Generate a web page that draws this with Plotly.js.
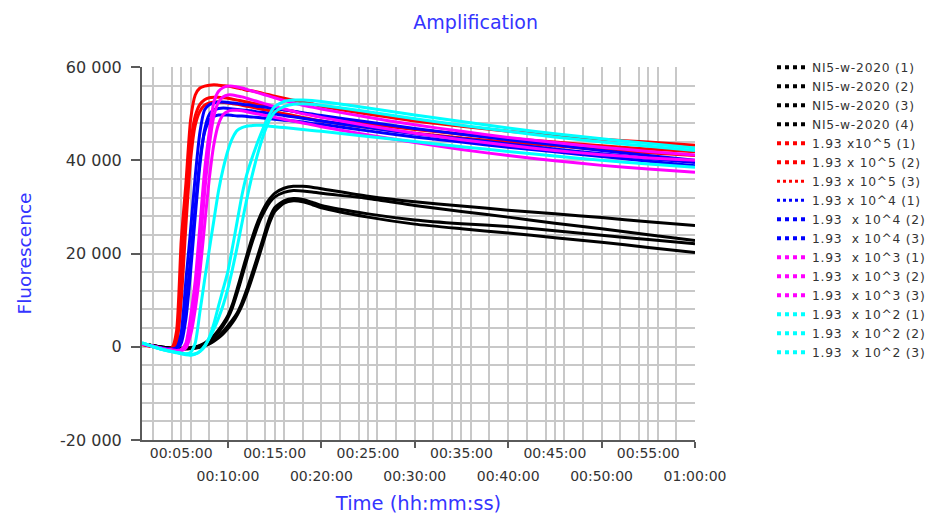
<!DOCTYPE html>
<html><head><meta charset="utf-8">
<script src="https://cdn.plot.ly/plotly-3.0.1.min.js"></script>
<style>html,body{margin:0;padding:0;background:#fff}#chart{width:929px;height:516px}
.legendtext{letter-spacing:0.75px}</style>
</head><body><div id="chart"></div>
<script>
// time in minutes
const timeMin = [0.8, 2, 3, 4, 4.5, 5, 5.5, 6, 6.5, 7, 7.5, 8, 8.5, 9, 9.5, 10, 10.5, 11, 11.5, 12, 12.5, 13, 13.5, 14, 14.5, 15, 16, 17, 18, 19, 20, 25, 30, 35, 40, 45, 50, 55, 60];

const ni5_1 = [600, 200, -100, -300, -300, -300, -300, -200, 0, 300, 800, 1500, 2400, 3600, 5000, 6700, 9200, 12500, 16000, 19500, 22800, 25800, 28300, 30300, 31800, 32900, 34000, 34400, 34400, 34200, 33900, 32300, 31100, 30200, 29300, 28500, 27700, 26800, 26000];
const ni5_2 = [600, 200, -100, -300, -300, -300, -300, -200, -100, 200, 600, 1200, 2000, 3100, 4500, 6200, 8500, 11600, 15000, 18500, 21800, 24800, 27400, 29400, 31000, 32100, 33100, 33500, 33400, 33200, 32900, 31800, 30300, 29000, 27800, 26500, 25300, 24000, 22800];
const ni5_3 = [600, 200, -100, -300, -400, -400, -400, -300, -200, 0, 400, 900, 1500, 2300, 3300, 4500, 5800, 7300, 9500, 12200, 15200, 18300, 21500, 24800, 27800, 29800, 31300, 31800, 31600, 31000, 30300, 28500, 27200, 26400, 25800, 24900, 23900, 23000, 22100];
const ni5_4 = [600, 200, -100, -300, -400, -500, -500, -400, -300, -100, 200, 600, 1200, 1900, 2800, 3900, 5200, 6800, 8800, 11300, 14200, 17300, 20500, 23800, 26800, 29000, 30800, 31300, 31100, 30500, 29800, 27800, 26300, 25300, 24400, 23400, 22400, 21300, 20200];

const e5_1 = [600, 100, -300, -200, 3400, 22800, 35000, 48600, 54000, 55500, 55900, 56100, 56200, 56100, 56000, 55900, 55700, 55500, 55300, 55000, 54900, 54700, 54500, 54200, 54000, 53750, 53300, 52900, 52500, 52100, 51600, 49900, 48400, 47300, 46200, 45400, 44500, 43900, 43200];
const e5_2 = [500, 0, -400, -300, 1500, 15000, 31000, 43500, 49500, 52000, 53000, 53400, 53500, 53500, 53400, 53300, 53100, 52900, 52700, 52500, 52300, 52100, 51900, 51700, 51500, 51300, 50900, 50500, 50100, 49700, 49300, 47800, 46600, 45600, 44700, 43900, 43100, 42400, 41800];
const e5_3 = [500, 0, -400, -400, 800, 10000, 26000, 40000, 47500, 50500, 51800, 52300, 52500, 52500, 52400, 52300, 52100, 52000, 51800, 51600, 51400, 51200, 51000, 50800, 50600, 50400, 50000, 49600, 49200, 48800, 48400, 47000, 45800, 44800, 43900, 43100, 42300, 41600, 41000];

const e4_1 = [600, 100, -300, -500, -200, 3000, 14200, 25000, 36500, 46000, 50800, 51900, 52300, 52500, 52500, 52400, 52300, 52200, 52000, 51900, 51800, 51600, 51500, 51400, 51200, 51100, 50800, 50500, 50200, 49900, 49600, 48200, 46800, 45600, 44400, 43300, 42100, 41000, 40000];
const e4_2 = [600, 100, -300, -600, -400, 1500, 9000, 19000, 30000, 40000, 46000, 48500, 49400, 49700, 49700, 49700, 49600, 49500, 49500, 49400, 49300, 49200, 49100, 49000, 48900, 48800, 48600, 48400, 48200, 47900, 47700, 46300, 45000, 43900, 42800, 41800, 40800, 39800, 38800];
const e4_3 = [600, 100, -300, -600, -500, 800, 6000, 16000, 28000, 39000, 46500, 49800, 50800, 51100, 51200, 51100, 51000, 50900, 50800, 50700, 50600, 50400, 50300, 50200, 50000, 49900, 49600, 49300, 49000, 48700, 48400, 47000, 45700, 44600, 43500, 42400, 41400, 40400, 39500];

const e3_1 = [600, 100, -400, -700, -800, -600, 800, 6500, 14200, 26000, 37800, 46000, 52500, 54800, 55600, 55900, 55900, 55700, 55500, 55200, 54900, 54600, 54300, 54000, 53700, 53400, 52800, 52300, 51800, 51400, 51000, 49200, 47600, 46200, 44900, 43800, 42800, 41900, 41100];
const e3_2 = [600, 100, -400, -700, -900, -700, 300, 4000, 11000, 21000, 33000, 43000, 49500, 52500, 53600, 54000, 54000, 53800, 53600, 53300, 53000, 52700, 52400, 52100, 51800, 51500, 51000, 50500, 50000, 49600, 49200, 47400, 45800, 44400, 43200, 42100, 41200, 40500, 40000];
const e3_3 = [600, 100, -400, -800, -1000, -900, -300, 2500, 8000, 16000, 26000, 36000, 43500, 47800, 49800, 50500, 50700, 50700, 50600, 50400, 50200, 50000, 49800, 49600, 49400, 49200, 48800, 48400, 48000, 47600, 47200, 45400, 43800, 42300, 41000, 39900, 38900, 38100, 37400];

const e2_1 = [800, 0, -600, -1000, -1200, -1400, -1500, -1200, 800, 7500, 14300, 20800, 27200, 33500, 38300, 42100, 44800, 46400, 47000, 47300, 47400, 47500, 47500, 47400, 47300, 47200, 47000, 46800, 46600, 46400, 46200, 45100, 44000, 42900, 41900, 40900, 40000, 39200, 38500];
const e2_2 = [800, 0, -600, -1000, -1200, -1400, -1600, -1700, -1500, -1000, 0, 2000, 5000, 8800, 12500, 16200, 21500, 27000, 32500, 36800, 40000, 42900, 45500, 47900, 50000, 51500, 52600, 52900, 52900, 52800, 52600, 51200, 49700, 48300, 46900, 45700, 44600, 43600, 42600];
const e2_3 = [800, 0, -600, -1100, -1300, -1500, -1700, -1800, -1600, -1000, 200, 1800, 3800, 6200, 9000, 12500, 16800, 21500, 26500, 31500, 36000, 40000, 43500, 46500, 48800, 50300, 51500, 52000, 52100, 52000, 51800, 50400, 48900, 47500, 46200, 45000, 43900, 43000, 42100];

const seriesNames = ['NI5-w-2020 (1)', 'NI5-w-2020 (2)', 'NI5-w-2020 (3)', 'NI5-w-2020 (4)',
  '1.93 x10^5 (1)', '1.93 x 10^5 (2)', '1.93 x 10^5 (3)',
  '1.93 x 10^4 (1)', '1.93  x 10^4 (2)', '1.93  x 10^4 (3)',
  '1.93  x 10^3 (1)', '1.93  x 10^3 (2)', '1.93  x 10^3 (3)',
  '1.93  x 10^2 (1)', '1.93  x 10^2 (2)', '1.93  x 10^2 (3)'];

const yTickVals = [-20000, 0, 20000, 40000, 60000];
const yTickText = ['-20 000', '0', '20 000', '40 000', '60 000'];
const xTickValsEven = [10, 20, 30, 40, 50, 60];
const xTickTextEven = ['00:10:00', '00:20:00', '00:30:00', '00:40:00', '00:50:00', '01:00:00'];
const xTickValsOdd = [5, 15, 25, 35, 45, 55];
const xTickTextOdd = ['00:05:00', '00:15:00', '00:25:00', '00:35:00', '00:45:00', '00:55:00'];

const allSeries = [ni5_1, ni5_2, ni5_3, ni5_4, e5_1, e5_2, e5_3, e4_1, e4_2, e4_3, e3_1, e3_2, e3_3, e2_1, e2_2, e2_3];
const palette = ['#000000','#000000','#000000','#000000','#ff0000','#ff0000','#ff0000','#0000ff','#0000ff','#0000ff','#ff00ff','#ff00ff','#ff00ff','#00ffff','#00ffff','#00ffff'];
const legendLineW = [4,4,4,4,4,4,3,3,4,4,4,4,4,4,4,4];

const dataTraces = allSeries.map((v, i) => ({
  x: timeMin, y: v, type: 'scatter', mode: 'lines', name: seriesNames[i],
  line: {color: palette[i], width: 3, shape: 'spline', smoothing: 0.6},
  showlegend: false
}));
const legendTraces = seriesNames.map((n, i) => ({
  x: [null], y: [null], type: 'scatter', mode: 'lines', name: n, xaxis: 'x2',
  line: {color: palette[i], width: legendLineW[i], dash: 'dot'}
}));

const grid = '#c8c8c8';
const axisCol = '#5a5a5a';
const blue = '#3434ff';

const layout = {
  width: 929, height: 516,
  margin: {l: 142, r: 234, t: 67, b: 76, pad: 0, autoexpand: false},
  paper_bgcolor: '#ffffff', plot_bgcolor: '#ffffff',
  font: {family: 'DejaVu Sans, sans-serif', color: '#333333', size: 14},
  showlegend: true,
  title: {text: 'Amplification', font: {size: 19, color: blue}, x: 0.512, xanchor: 'center', y: 0.957, yanchor: 'middle'},
  xaxis: {
    range: [0.8, 60], tickmode: 'array', tickvals: xTickValsEven, ticktext: xTickTextEven,
    ticks: 'outside', ticklen: 6, tickwidth: 2, tickcolor: axisCol,
    showline: true, linecolor: axisCol, linewidth: 2, mirror: false,
    showgrid: true, gridcolor: grid, gridwidth: 2, zeroline: false,
    minor: {tickmode: 'linear', tick0: 0, dtick: 2, showgrid: true, gridcolor: grid, gridwidth: 2, ticks: ''},
    ticklabelstandoff: 16, tickfont: {size: 14, color: '#333333'},
    title: {text: 'Time (hh:mm:ss)', font: {size: 19.5, color: blue}, standoff: 14}
  },
  xaxis2: {
    overlaying: 'x', anchor: 'y', side: 'bottom', range: [0.8, 60],
    tickmode: 'array', tickvals: xTickValsOdd, ticktext: xTickTextOdd, ticks: '',
    showgrid: true, gridcolor: grid, gridwidth: 2, showline: false, zeroline: false,
    ticklabelstandoff: 3, tickfont: {size: 14, color: '#333333'}
  },
  yaxis: {
    range: [-20000, 60000], tickmode: 'array', tickvals: yTickVals, ticktext: yTickText,
    ticks: 'outside', ticklen: 9, tickwidth: 2, tickcolor: axisCol,
    showline: true, linecolor: axisCol, linewidth: 2,
    showgrid: true, gridcolor: grid, gridwidth: 2, zeroline: false,
    minor: {tickmode: 'linear', tick0: 0, dtick: 4000, showgrid: true, gridcolor: grid, gridwidth: 2, ticks: ''},
    ticklabelstandoff: 6, tickfont: {size: 16, color: '#333333'},
    title: {text: 'Fluorescence', font: {size: 18.5, color: blue}, standoff: 24}
  },
  legend: {x: 1.1392, xanchor: 'left', y: 1.038, yanchor: 'top', font: {size: 12.3, color: '#333333'},
    bgcolor: 'rgba(0,0,0,0)', tracegroupgap: 0, maxheight: 440}
};

Plotly.newPlot('chart', dataTraces.concat(legendTraces), layout, {displayModeBar: false, staticPlot: true});
</script></body></html>
